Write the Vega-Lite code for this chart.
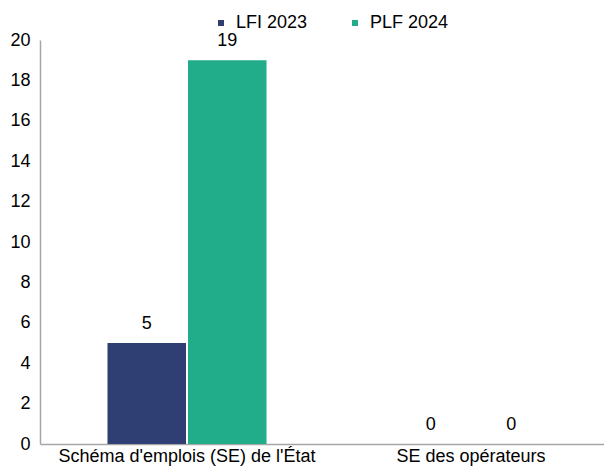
{
  "$schema": "https://vega.github.io/schema/vega-lite/v6.json",
  "width": 578,
  "height": 404,
  "autosize": {"type": "none"},
  "padding": {"left": 40, "top": 40, "right": 0, "bottom": 22},
  "background": "white",
  "config": {
    "font": "Liberation Sans",
    "view": {"stroke": null}
  },
  "data": {
    "values": [
      {"cat": "Schéma d'emplois (SE) de l'État", "serie": "LFI 2023", "value": 5},
      {"cat": "Schéma d'emplois (SE) de l'État", "serie": "PLF 2024", "value": 19},
      {"cat": "SE des opérateurs", "serie": "LFI 2023", "value": 0},
      {"cat": "SE des opérateurs", "serie": "PLF 2024", "value": 0}
    ]
  },
  "encoding": {
    "x": {
      "field": "cat",
      "type": "nominal",
      "sort": null,
      "scale": {"paddingInner": 0.44, "paddingOuter": 0.2376},
      "axis": {
        "title": null,
        "labelAngle": 0,
        "ticks": false,
        "labelLimit": 0,
        "domainColor": "#a6a6a6",
        "domainWidth": 1.5,
        "labelFontSize": 18,
        "labelColor": "#000000",
        "labelPadding": 3
      }
    },
    "xOffset": {"field": "serie", "type": "nominal", "scale": {"paddingInner": 0.025}},
    "y": {
      "field": "value",
      "type": "quantitative",
      "scale": {"domain": [0, 20]},
      "axis": {
        "title": null,
        "grid": false,
        "ticks": false,
        "tickCount": 10,
        "domainColor": "#a6a6a6",
        "domainWidth": 1.5,
        "labelFontSize": 18,
        "labelColor": "#000000",
        "labelPadding": 10
      }
    }
  },
  "layer": [
    {
      "mark": {"type": "bar"},
      "encoding": {
        "color": {
          "field": "serie",
          "type": "nominal",
          "scale": {"domain": ["LFI 2023", "PLF 2024"], "range": ["#2f3e73", "#22ad8a"]},
          "legend": {
            "title": null,
            "orient": "none",
            "direction": "horizontal",
            "legendX": 172,
            "legendY": -26,
            "symbolType": "square",
            "symbolSize": 36,
            "labelFontSize": 18,
            "labelColor": "#000000",
            "columnPadding": 38,
            "labelOffset": 6
          }
        }
      }
    },
    {
      "mark": {"type": "text", "baseline": "alphabetic", "dy": -14, "fontSize": 18, "color": "#000000"},
      "encoding": {
        "text": {"field": "value", "type": "quantitative"}
      }
    }
  ]
}
